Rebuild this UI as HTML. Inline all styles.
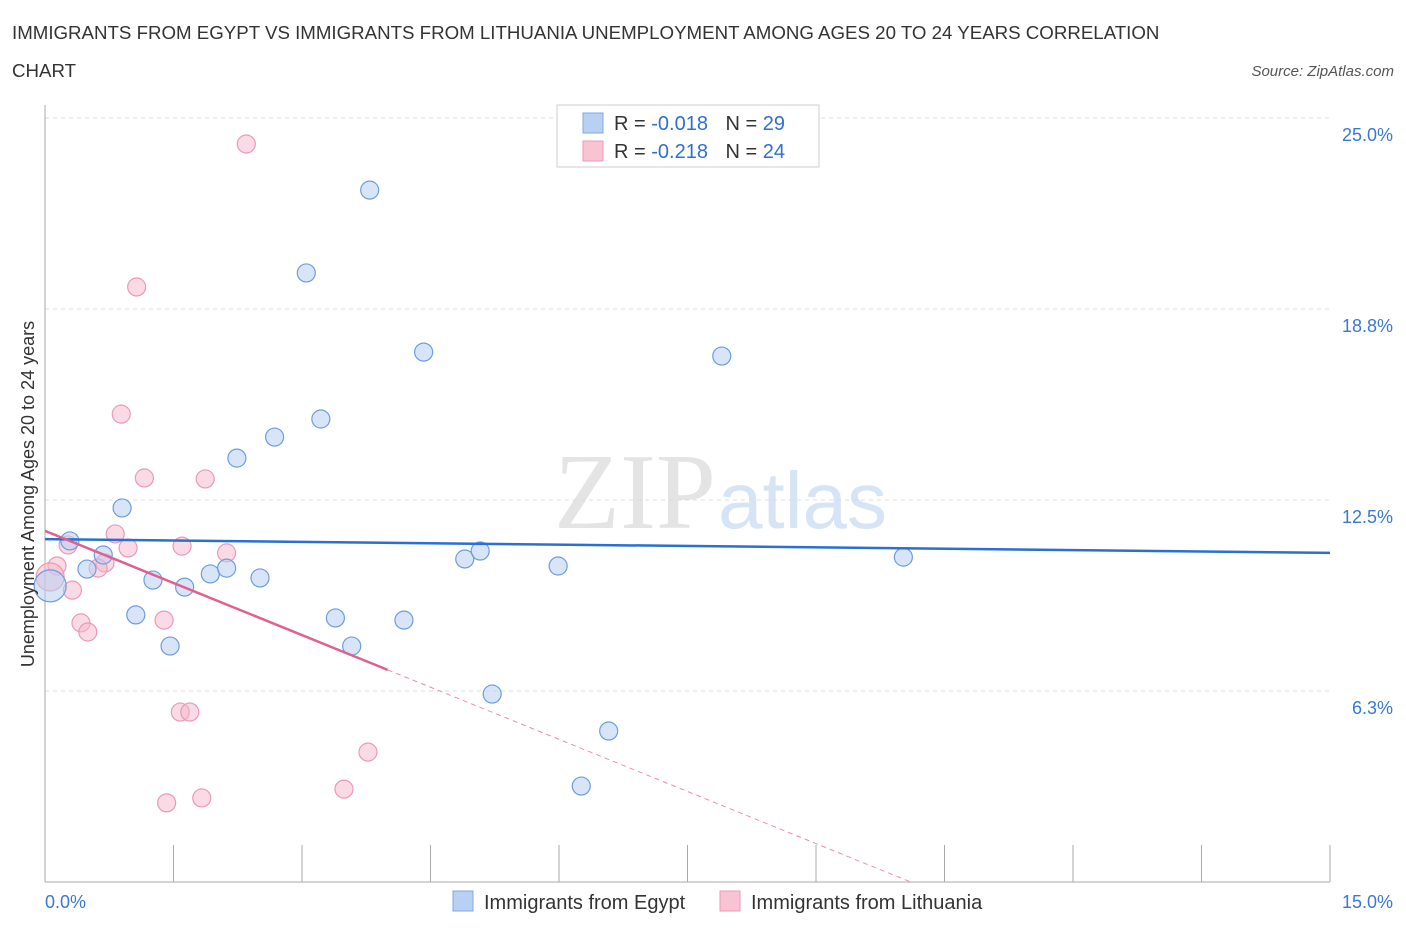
<!DOCTYPE html>
<html><head><meta charset="utf-8"><style>
body{margin:0;background:#fff;font-family:"Liberation Sans",sans-serif}
</style></head><body>
<svg width="1406" height="930" xmlns="http://www.w3.org/2000/svg" font-family="Liberation Sans, sans-serif">
<text x="12" y="39" font-size="18.7" fill="#333">IMMIGRANTS FROM EGYPT VS IMMIGRANTS FROM LITHUANIA UNEMPLOYMENT AMONG AGES 20 TO 24 YEARS CORRELATION</text>
<text x="12" y="77" font-size="18.7" fill="#333">CHART</text>
<text x="1394" y="76" font-size="15" fill="#555" font-style="italic" text-anchor="end">Source: ZipAtlas.com</text>
<text x="716" y="528" font-size="108" fill="#e4e4e4" text-anchor="end" font-family="Liberation Serif, serif">ZIP</text>
<text x="718" y="528" font-size="80" fill="#d6e4f5">atlas</text>
<g id="grid"></g>
<g id="axes"></g>
<g id="marks"></g>
<text transform="translate(34,494) rotate(-90)" font-size="18" fill="#333" text-anchor="middle">Unemployment Among Ages 20 to 24 years</text>
<g>
<rect x="557" y="105" width="262" height="62" fill="#fff" stroke="#ccc"/>
<rect x="583" y="113" width="20" height="20" fill="#b8d0f3" stroke="#7fa8e0"/>
<rect x="583" y="141" width="20" height="20" fill="#f8c3d3" stroke="#eb9ab4"/>
<text x="614" y="130" font-size="20" fill="#333">R = <tspan fill="#2f6fd0">-0.018</tspan>  <tspan dx="12">N = </tspan><tspan fill="#2f6fd0">29</tspan></text>
<text x="614" y="158" font-size="20" fill="#333">R = <tspan fill="#2f6fd0"> -0.218</tspan>  <tspan dx="12">N = </tspan><tspan fill="#2f6fd0">24</tspan></text>
</g>
<g>
<rect x="453" y="891" width="20" height="20" fill="#b8d0f3" stroke="#7fa8e0"/>
<text x="484" y="909" font-size="20" fill="#333">Immigrants from Egypt</text>
<rect x="720" y="891" width="20" height="20" fill="#f8c3d3" stroke="#eb9ab4"/>
<text x="751" y="909" font-size="20" fill="#333">Immigrants from Lithuania</text>
</g>
</svg>
<script>
const yTicks=[25,18.75,12.5,6.25];
const yTickLabels=["25.0%","18.8%","12.5%","6.3%"];
const xTicks=[0,1.5,3,4.5,6,7.5,9,10.5,12,13.5,15];
const egyptX=[0.29,0.49,0.68,0.90,1.06,1.26,1.46,1.63,1.93,2.12,2.24,2.51,2.68,3.05,3.22,3.39,3.58,3.79,4.19,4.42,4.90,5.08,5.22,5.99,6.26,6.58,7.90,10.02,0.06];
const egyptY=[11.16,10.24,10.70,12.24,8.74,9.88,7.72,9.65,10.08,10.27,13.87,9.95,14.56,19.93,15.15,8.64,7.72,22.64,8.57,17.34,10.57,10.83,6.15,10.34,3.14,4.94,17.21,10.63,9.69];
const egyptR=[9,9,9,9,9,9,9,9,9,9,9,9,9,9,9,9,9,9,9,9,9,9,9,9,9,9,9,9,16];
const lithX=[2.35,1.07,0.89,1.16,1.87,0.82,0.27,0.97,1.60,2.12,0.70,0.14,0.62,0.06,0.32,0.42,0.50,1.39,1.58,1.69,3.77,3.49,1.42,1.83];
const lithY=[24.15,19.47,15.31,13.22,13.19,11.39,11.03,10.93,10.99,10.77,10.44,10.34,10.27,9.98,9.55,8.48,8.18,8.57,5.56,5.56,4.25,3.04,2.59,2.75];
const lithR=[9,9,9,9,9,9,9,9,9,9,9,9,9,14,9,9,9,9,9,9,9,9,9,9];
const egyptTrend=[11.22,10.77];
const lithTrend=[11.49,-1.137];
const lithSolidEnd=4.0;
const X=v=>45+v*85.667, Y=v=>882-v*30.56;
const NS="http://www.w3.org/2000/svg";
function mk(t,a,p){const e=document.createElementNS(NS,t);for(const k in a)e.setAttribute(k,a[k]);p.appendChild(e);return e;}
const grid=document.getElementById('grid'),axes=document.getElementById('axes'),marks=document.getElementById('marks');
yTicks.forEach((v,i)=>{
 const l=mk('line',{x1:45,x2:1330,y1:Y(v),y2:Y(v),stroke:'#ddd','stroke-dasharray':'4,4'},grid);
 
 
 const t=mk('text',{x:1393,y:Y(v)+23,'font-size':18,fill:'#3a78d4','text-anchor':'end'},axes);
 t.textContent=yTickLabels[i];
 
 
});
const ya=mk('line',{x1:45,x2:45,y1:105,y2:882,stroke:'#aaa'},axes);


const xa=mk('line',{x1:45,x2:1330,y1:882,y2:882,stroke:'#aaa'},axes);


xTicks.forEach(v=>{
 const l=mk('line',{x1:X(v),x2:X(v),y1:845,y2:882,stroke:'#aaa'},axes);
 
 
});
const x0=mk('text',{x:45,y:908,'font-size':18,fill:'#3a78d4'},axes);x0.textContent='0.0%';


const x1=mk('text',{x:1393,y:908,'font-size':18,fill:'#3a78d4','text-anchor':'end'},axes);x1.textContent='15.0%';


lithX.forEach((v,i)=>{
 const c=mk('circle',{cx:X(v),cy:Y(lithY[i]),r:lithR[i],fill:'rgba(246,182,203,0.5)',stroke:'#eb9ab4','stroke-width':1.2},marks);
 
 
});
egyptX.forEach((v,i)=>{
 const c=mk('circle',{cx:X(v),cy:Y(egyptY[i]),r:egyptR[i],fill:'rgba(184,208,243,0.55)',stroke:'#6c9de0','stroke-width':1.2},marks);
 
 
});
const et=mk('line',{x1:X(0),y1:Y(egyptTrend[0]),x2:X(15),y2:Y(egyptTrend[1]),stroke:'#2a6fd1','stroke-width':2.5},marks);


const lf=x=>lithTrend[0]+lithTrend[1]*x;
const zeroX=-lithTrend[0]/lithTrend[1];
const ls=mk('line',{x1:X(0),y1:Y(lf(0)),x2:X(lithSolidEnd),y2:Y(lf(lithSolidEnd)),stroke:'#e0608f','stroke-width':2.5},marks);


const ld=mk('line',{x1:X(lithSolidEnd),y1:Y(lf(lithSolidEnd)),x2:X(zeroX),y2:Y(0),stroke:'#e890ab','stroke-width':1,'stroke-dasharray':'5,4'},marks);


</script>
</body></html>
